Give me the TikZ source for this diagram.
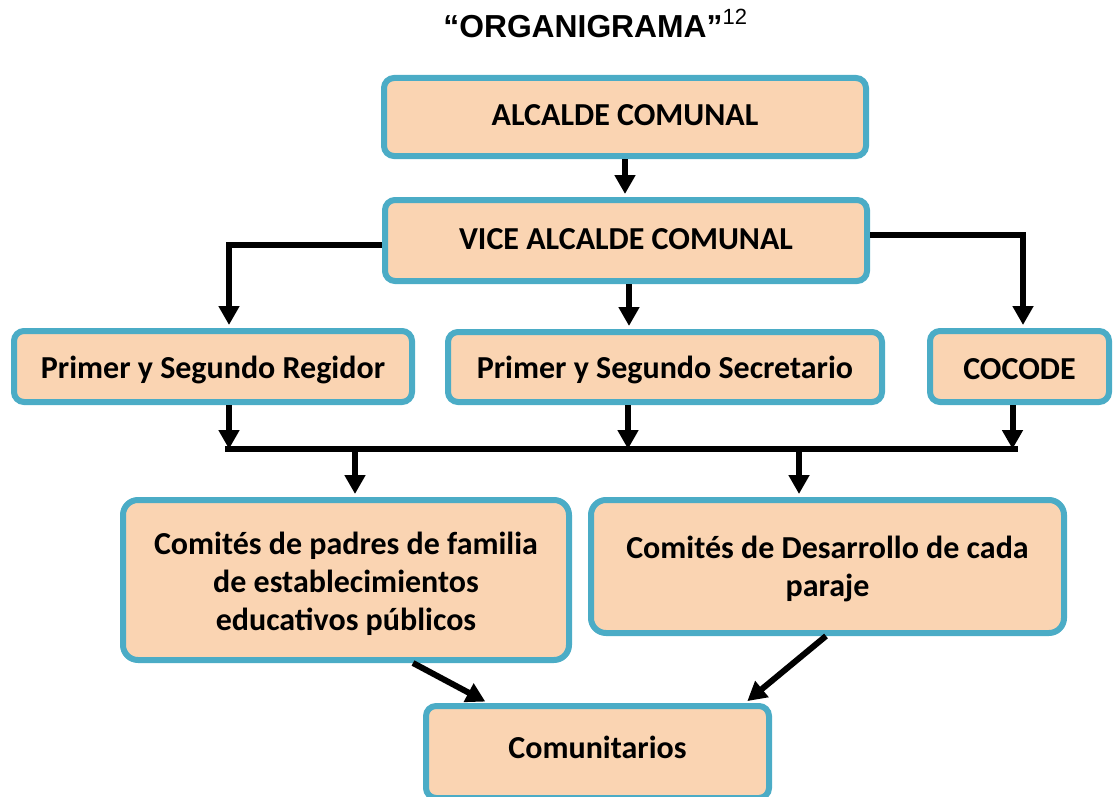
\documentclass[tikz,border=0pt]{standalone}
\usepackage{fontspec}
\setmainfont{Carlito}
\newfontfamily\titlefont{Liberation Sans}
\usetikzlibrary{arrows.meta}
\definecolor{boxfill}{RGB}{250,212,178}
\definecolor{boxline}{RGB}{75,172,198}
\newcommand\myvshift[2]{\raisebox{#1}[\height][\depth]{#2}}
\begin{document}
\begin{tikzpicture}[x=0.5pt,y=-0.5pt,
  orgbox/.style={draw=boxline,fill=boxfill,line width=3pt,rounded corners=5pt,
    font=\fontsize{16}{19}\selectfont\bfseries,align=center,inner sep=0pt},
  bigbox/.style={orgbox,rounded corners=7.5pt},
  conn/.style={line width=3pt,-{Triangle[width=10pt,length=9.5pt]},shorten >=1.5pt},
  busline/.style={line width=3pt}]
\useasboundingbox (0,0) rectangle (1113,797);
\node[anchor=base west,inner sep=0pt] (title) at (443,38)
  {{\titlefont\fontsize{15.9}{18}\selectfont\bfseries “ORGANIGRAMA”}{\titlefont\fontsize{11}{13}\selectfont\raisebox{6.5pt}{12}}};
\node[orgbox,minimum width=241pt,minimum height=39pt] (alc) at (625,117) {\myvshift{1pt}{ALCALDE COMUNAL}};
\node[orgbox,minimum width=241pt,minimum height=40.5pt] (vice) at (626,240.5) {\myvshift{0.5pt}{VICE ALCALDE COMUNAL}};
\node[orgbox,minimum width=199pt,minimum height=35.5pt] (reg) at (213,366.5) {\myvshift{-1.5pt}{Primer y Segundo Regidor}};
\node[orgbox,minimum width=217pt,minimum height=35pt] (sec) at (665,367) {\myvshift{-1.5pt}{Primer y Segundo Secretario}};
\node[orgbox,minimum width=89.5pt,minimum height=35.5pt] (coc) at (1019.5,366.5) {\myvshift{-1.5pt}{COCODE}};
\node[bigbox,minimum width=223pt,minimum height=80pt] (pad) at (346,580)
  {\myvshift{-2.5pt}{\begin{tabular}{@{}c@{}}Comités de padres de familia\\de establecimientos\\educativos públicos\end{tabular}}};
\node[bigbox,minimum width=236.5pt,minimum height=66.5pt] (des) at (827.5,566.5)
  {\myvshift{-1.5pt}{\begin{tabular}{@{}c@{}}Comités de Desarrollo de cada\\paraje\end{tabular}}};
\node[orgbox,minimum width=171.5pt,minimum height=46pt] (com) at (597.5,752) {\myvshift{2.5pt}{Comunitarios}};
\coordinate (busL) at (225,449);
\coordinate (busR) at (1018,449);
% connectors
\draw[conn] (alc.south) -- (alc.south |- vice.north);
\draw[conn] ([yshift=-2.25pt]vice.west) -| ([xshift=8pt]reg.north);
\draw[conn] ([yshift=2.75pt]vice.east) -| ([xshift=1.75pt]coc.north);
\draw[conn] ([xshift=1.5pt]vice.south) -- ([xshift=1.5pt]vice.south |- sec.north);
\draw[busline] (busL) -- (busR);
\draw[conn,shorten >=0pt] ([xshift=8pt]reg.south) -- ([xshift=8pt]reg.south |- busL);
\draw[conn,shorten >=0pt] ([xshift=1pt]vice.south |- sec.south) -- ([xshift=1pt]vice.south |- busL);
\draw[conn,shorten >=0pt] ([xshift=-3.5pt]coc.south) -- ([xshift=-3.5pt]coc.south |- busL);
\draw[conn] ([xshift=4.5pt]pad.north |- busL) -- ([xshift=4.5pt]pad.north);
\draw[conn] ([xshift=-14.25pt]des.north |- busL) -- ([xshift=-14.25pt]des.north);
\draw[conn] ([xshift=33.5pt]pad.south) -- ([xshift=-54.75pt]com.north);
\draw[conn] ([xshift=-0.75pt]des.south) -- ([xshift=73.75pt]com.north);
\end{tikzpicture}
\end{document}
